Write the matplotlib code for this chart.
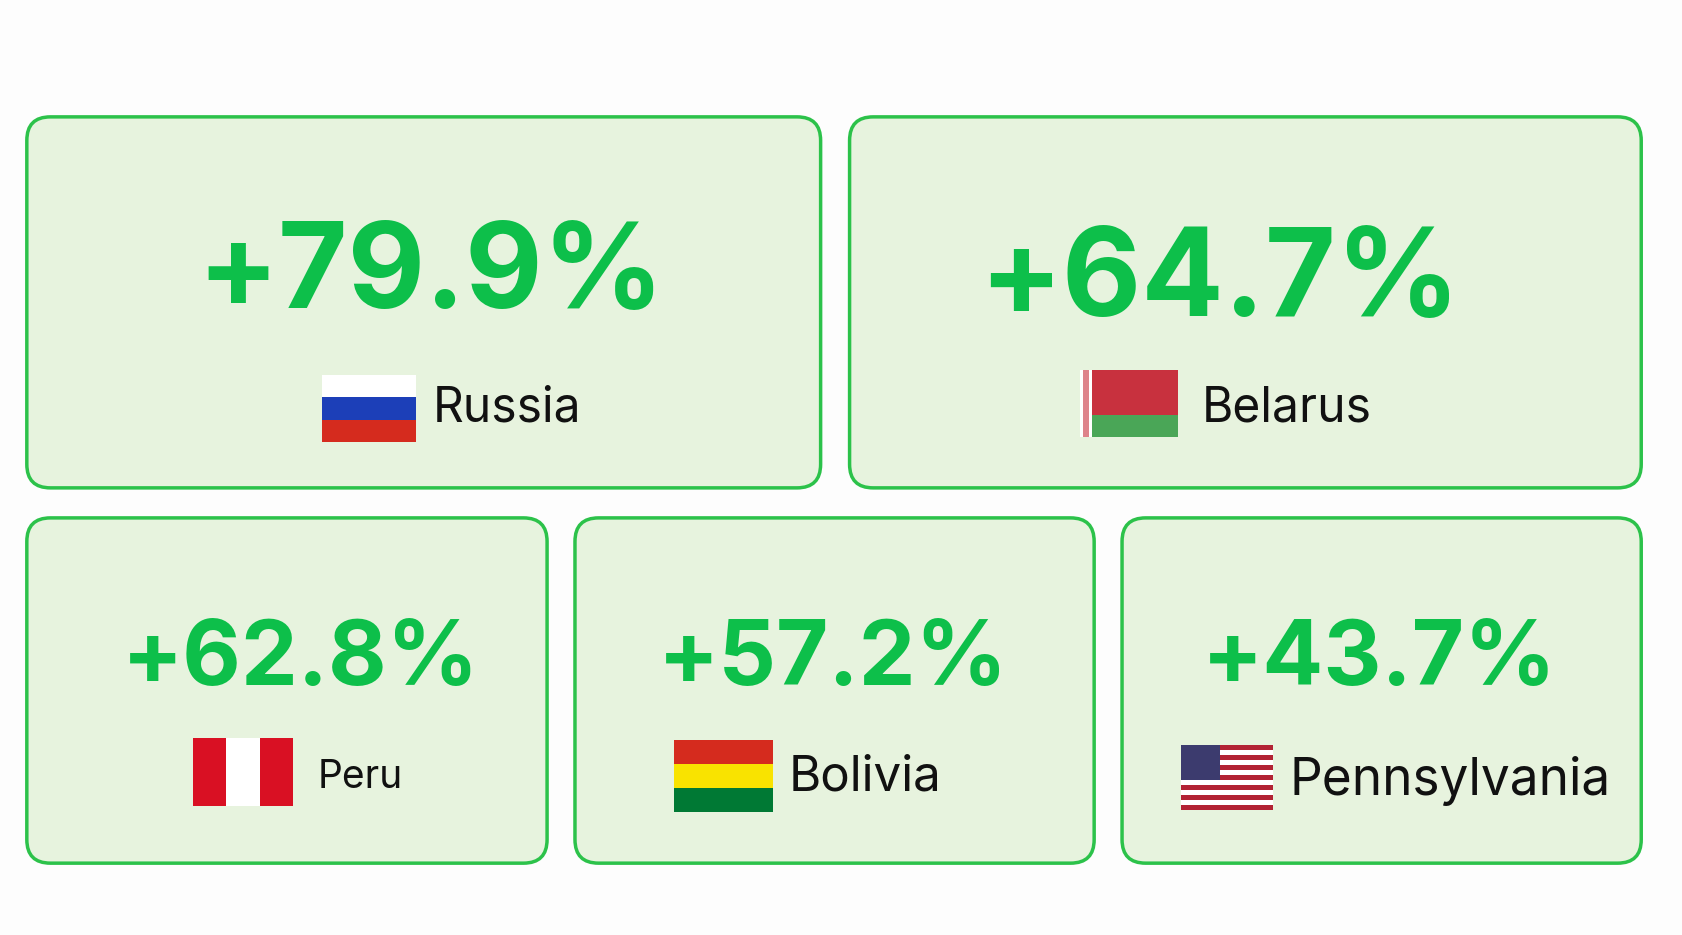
import matplotlib
matplotlib.use("Agg")
import matplotlib.pyplot as plt
from matplotlib.patches import FancyBboxPatch, Rectangle

names = ["Russia", "Belarus", "Peru", "Bolivia", "Pennsylvania"]
values = [79.9, 64.7, 62.8, 57.2, 43.7]
flags = {
    "Russia": ("h", ["#ffffff", "#1c3fb8", "#d52b1e"]),
    "Belarus": ("hw", []),
    "Peru": ("v", ["#d91023", "#ffffff", "#d91023"]),
    "Bolivia": ("h", ["#d52b1e", "#f9e300", "#007934"]),
    "Pennsylvania": ("us", []),
}

boxes = [(25, 109, 765, 455), (792, 109, 1530, 455),
         (25, 483, 510, 805), (536, 483, 1020, 805), (1046, 483, 1530, 805)]
val_pos = [(402, 258), (1137, 264), (280, 616), (777, 616), (1286, 616)]
flag_box = [(300, 350, 388, 412), (1007, 345, 1098, 408), (180, 688, 273, 752),
            (628, 690, 721, 757), (1101, 695, 1187, 755)]
lab_pos = [(403, 381), (1120, 381), (296, 725), (735, 725), (1202, 728)]
val_fs = [86, 88, 65, 65, 65]
lab_fs = [34.5, 34.5, 28, 35.5, 37]

fig = plt.figure(figsize=(16.82, 9.35), dpi=100)
ax = fig.add_axes([0, 0, 1, 1])
ax.set_xlim(0, 1568)
ax.set_ylim(872, 0)
ax.axis("off")
fig.patch.set_facecolor("#fdfdfd")

green = "#0dbf4a"
for i, n in enumerate(names):
    x0, y0, x1, y1 = boxes[i]
    ax.add_patch(FancyBboxPatch((x0, y0), x1 - x0, y1 - y0,
                                boxstyle="round,pad=0,rounding_size=22",
                                fc="#e7f3de", ec="#2cc24a", lw=2.5))
    ax.text(*val_pos[i], f"+{values[i]}%", ha="center", va="center",
            fontsize=val_fs[i], fontweight="bold", family="Inter", color=green)
    fx0, fy0, fx1, fy1 = flag_box[i]
    w, h = fx1 - fx0, fy1 - fy0
    kind, cols = flags[n]
    if kind == "h":
        for k, c in enumerate(cols):
            ax.add_patch(Rectangle((fx0, fy0 + k * h / 3), w, h / 3, fc=c, ec="none"))
    elif kind == "v":
        for k, c in enumerate(cols):
            ax.add_patch(Rectangle((fx0 + k * w / 3, fy0), w / 3, h, fc=c, ec="none"))
    elif kind == "hw":
        ax.add_patch(Rectangle((fx0, fy0), w, h * 2 / 3, fc="#c8313e", ec="none"))
        ax.add_patch(Rectangle((fx0, fy0 + h * 2 / 3), w, h / 3, fc="#4aa657", ec="none"))
        ax.add_patch(Rectangle((fx0, fy0), w * 0.12, h, fc="#ffffff", ec="none"))
        ax.add_patch(Rectangle((fx0 + w * 0.03, fy0), w * 0.06, h, fc="#c8313e", ec="none", alpha=0.6))
    else:
        for k in range(13):
            ax.add_patch(Rectangle((fx0, fy0 + k * h / 13), w, h / 13,
                                   fc="#b22234" if k % 2 == 0 else "#ffffff", ec="none"))
        ax.add_patch(Rectangle((fx0, fy0), w * 0.42, h * 7 / 13, fc="#3c3b6e", ec="none"))
    ax.text(*lab_pos[i], n, ha="left", va="center", fontsize=lab_fs[i],
            family="Inter", color="#111111")

fig.savefig("out.png", dpi=100, facecolor=fig.get_facecolor())
